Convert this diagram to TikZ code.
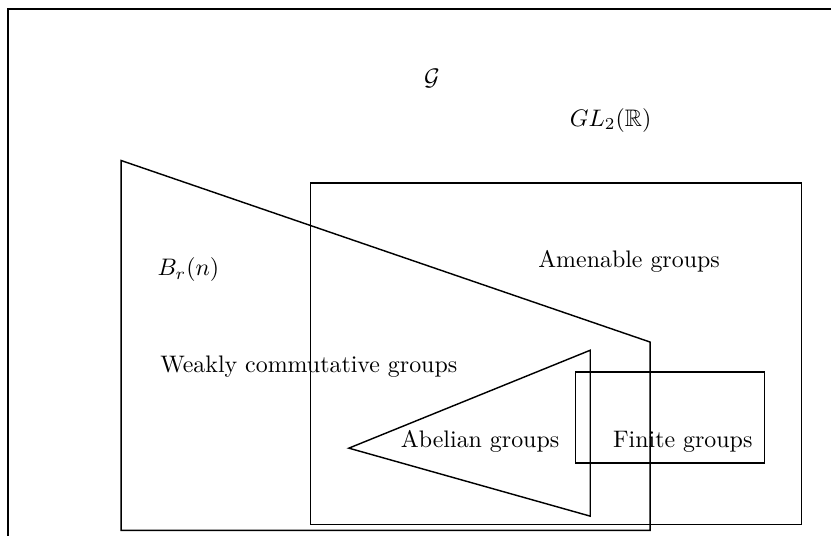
\documentclass[tikz,border=0pt]{standalone}
\usepackage{amsmath,amssymb,amsfonts}
\usepackage{tikz}

\begin{document}
\begin{tikzpicture}[semithick]
  \useasboundingbox (0,0) rectangle (12.22,7.87);
  \clip (0,0) rectangle (12.22,7.87);

  % Outer frame (all groups)
  \draw (0.12,-0.5) rectangle (12.6,7.74);
  \node (calG) at (6.35,6.72) {$\mathcal{G}$};
  \node (gl) at (8.98,6.10) {$GL_2(\mathbb{R})$};

  % Weakly commutative groups
  \draw (1.78,5.51) -- (1.78,0.07) -- (9.56,0.07) -- (9.56,2.84) -- cycle;
  \node (brn) at (2.77,3.90) {$B_r(n)$};
  \node (weak) at (4.54,2.48) {Weakly commutative groups};

  % Amenable groups
  \draw (4.57,5.18) rectangle (11.79,0.16);
  \node (amen) at (9.25,4.03) {Amenable groups};

  % Abelian groups
  \draw (5.13,1.28) -- (8.68,2.72) -- (8.68,0.28) -- cycle;
  \node (abel) at (7.06,1.38) {Abelian groups};

  % Finite groups
  \draw (8.46,2.40) rectangle (11.24,1.06);
  \node (fin) at (10.04,1.38) {Finite groups};
\end{tikzpicture}
\end{document}
